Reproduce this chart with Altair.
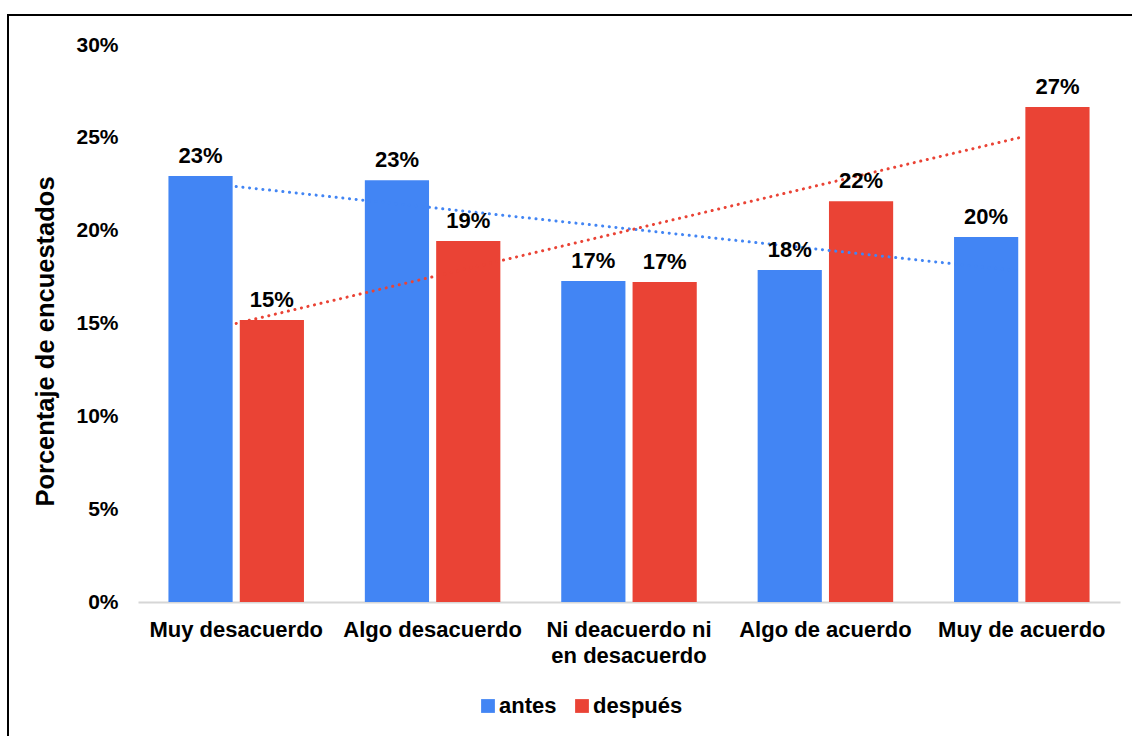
import altair as alt
import pandas as pd

# Survey answers, before and after (percentage of respondents)
categorias = [
    "Muy desacuerdo",
    "Algo desacuerdo",
    "Ni deacuerdo ni\nen desacuerdo",
    "Algo de acuerdo",
    "Muy de acuerdo",
]
series = ["antes", "después"]
antes = [22.94, 22.72, 17.29, 17.88, 19.66]
despues = [15.19, 19.44, 17.23, 21.59, 26.66]
ticks_y = [0, 5, 10, 15, 20, 25, 30]
colores = ["#4285F4", "#EA4335"]

rows = []
for i, c in enumerate(categorias):
    rows.append({"categoria": c, "idx": i, "serie": series[0], "valor": antes[i]})
    rows.append({"categoria": c, "idx": i, "serie": series[1], "valor": despues[i]})
df = pd.DataFrame(rows)
cat_df = pd.DataFrame({"idx": list(range(len(categorias))), "categoria": categorias})

FONT = "Liberation Sans"
W, H = 982, 557

x_enc = alt.X(
    "categoria:N",
    sort=categorias,
    scale=alt.Scale(paddingInner=0.31, paddingOuter=0.155),
    axis=alt.Axis(
        title=None,
        labelAngle=0,
        labelFont=FONT,
        labelFontSize=22,
        labelFontWeight="bold",
        labelColor="#000000",
        labelPadding=17,
        labelLimit=400,
        labelLineHeight=26,
        labelExpr="split(datum.label, '\\n')",
        ticks=False,
        domainColor="#d6d6d6",
        domainWidth=2,
        grid=False,
    ),
)
y_enc = alt.Y(
    "valor:Q",
    scale=alt.Scale(domain=[0, 30], nice=False),
    axis=alt.Axis(
        title="Porcentaje de encuestados",
        values=ticks_y,
        labelExpr="datum.value + '%'",
        labelFont=FONT,
        labelFontSize=21,
        labelFontWeight="bold",
        labelColor="#000000",
        labelPadding=20,
        ticks=False,
        domain=False,
        grid=False,
        titleFont=FONT,
        titleFontSize=25.5,
        titleFontWeight="bold",
        titleColor="#000000",
        titleX=-93,
        titleY=296,
        titleBaseline="middle",
    ),
)
color_scale = alt.Scale(domain=series, range=colores)
x_off = alt.XOffset("serie:N", sort=series, scale=alt.Scale(paddingInner=0.1))

base = alt.Chart(df)

barras = base.mark_bar().encode(
    x=x_enc,
    y=y_enc,
    xOffset=x_off,
    color=alt.Color(
        "serie:N",
        scale=color_scale,
        sort=series,
        legend=alt.Legend(
            title=None,
            orient="none",
            direction="horizontal",
            legendX=339,
            legendY=650,
            symbolType="square",
            symbolSize=190,
            symbolStrokeWidth=0,
            labelFont=FONT,
            labelFontSize=22,
            labelFontWeight="bold",
            labelColor="#000000",
            labelOffset=0,
            columnPadding=14,
            padding=0,
        ),
    ),
)

tendencia = (
    base.transform_regression("idx", "valor", groupby=["serie"], method="linear")
    .transform_lookup(
        lookup="idx",
        from_=alt.LookupData(data=cat_df, key="idx", fields=["categoria"]),
    )
    .mark_line(strokeWidth=3, strokeDash=[0.1, 6.6], strokeCap="round")
    .encode(
        x=alt.X("categoria:N", sort=categorias),
        y=alt.Y("valor:Q"),
        color=alt.Color("serie:N", scale=color_scale, legend=None),
        detail="serie:N",
    )
)

etiquetas = base.mark_text(
    font=FONT, fontSize=22, fontWeight="bold", color="#000000",
    baseline="alphabetic", dy=-13,
).encode(
    x=alt.X("categoria:N", sort=categorias),
    y=alt.Y("valor:Q"),
    xOffset=x_off,
    text=alt.Text("etiqueta:N"),
).transform_calculate(etiqueta="format(datum.valor / 100, '.0%')")

# Outer frame of the chart (top and left edges)
marco_df = pd.DataFrame({"k": [0]})
marco_sup = alt.Chart(marco_df).mark_rule(color="#000000", strokeWidth=2, clip=False).encode(
    x=alt.value(-130), x2=alt.value(1100), y=alt.value(-30)
)
marco_izq = alt.Chart(marco_df).mark_rule(color="#000000", strokeWidth=2, clip=False).encode(
    x=alt.value(-130), y=alt.value(-31), y2=alt.value(800)
)

chart = (
    alt.layer(barras, tendencia, etiquetas, marco_sup, marco_izq)
    .properties(
        width=W,
        height=H,
        autosize=alt.AutoSizeParams(type="none"),
        padding={"left": 138, "top": 45, "right": 12, "bottom": 134},
        background="#ffffff",
    )
    .configure_view(stroke=None)
)

chart.save("out.html", embed_options={"renderer": "svg", "actions": False})
